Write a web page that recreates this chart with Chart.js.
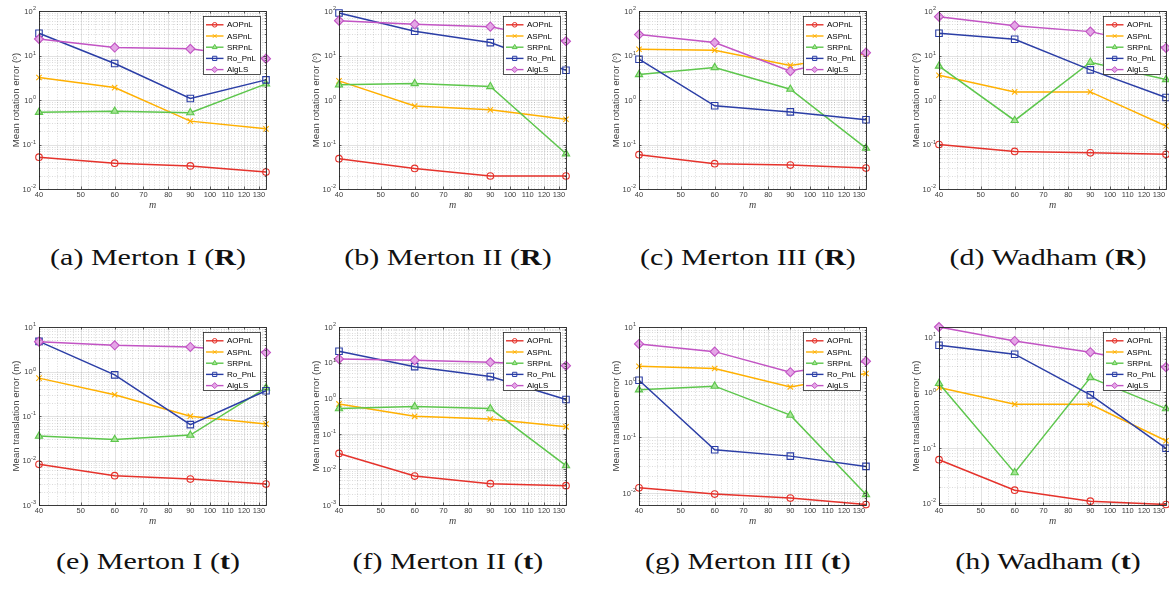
<!DOCTYPE html>
<html><head><meta charset="utf-8">
<script src="https://cdn.jsdelivr.net/npm/chart.js@4.4.0/dist/chart.umd.min.js"></script>
<style>
html,body{margin:0;padding:0;background:#fff;width:1169px;height:590px;overflow:hidden;position:relative}
.cv{position:absolute}
.cap{position:absolute;width:296px;text-align:center;font-family:"Liberation Serif","DejaVu Serif",serif;font-size:24px;line-height:28px;color:#111;white-space:nowrap;transform:scaleX(1.25);transform-origin:50% 50%}
</style></head><body>
<script>
// ---------- shared axis data ----------
const mValues = [40, 60, 90, 135];
const xTickValues = [40, 50, 60, 70, 80, 90, 100, 110, 120, 130];
const xTickLabels = ['40', '50', '60', '70', '80', '90', '100', '110', '120', '130'];
const decadeValues = [0.001, 0.01, 0.1, 1, 10, 100];
const decadeBase = '10';
const decadeExponents = ['-3', '-2', '-1', '0', '1', '2'];
const methodNames = ['AOPnL', 'ASPnL', 'SRPnL', 'Ro_PnL', 'AlgLS'];

// ---------- (a) Merton I (R) ----------
const mertonI_R_AOPnL = [0.052, 0.038, 0.033, 0.024];
const mertonI_R_ASPnL = [3.2, 1.9, 0.335, 0.225];
const mertonI_R_SRPnL = [0.53, 0.56, 0.52, 2.3];
const mertonI_R_RoPnL = [31.6, 6.6, 1.08, 2.83];
const mertonI_R_AlgLS = [23.5, 15.1, 14.1, 8.5];
// ---------- (b) Merton II (R) ----------
const mertonII_R_AOPnL = [0.048, 0.029, 0.0196, 0.0196];
const mertonII_R_ASPnL = [2.69, 0.73, 0.60, 0.37];
const mertonII_R_SRPnL = [2.19, 2.34, 2.01, 0.062];
const mertonII_R_RoPnL = [90, 35, 19.5, 4.67];
const mertonII_R_AlgLS = [60.7, 50.2, 44.5, 20.9];
// ---------- (c) Merton III (R) ----------
const mertonIII_R_AOPnL = [0.059, 0.037, 0.0345, 0.0296];
const mertonIII_R_ASPnL = [13.8, 13.1, 6.0, 11.0];
const mertonIII_R_SRPnL = [3.73, 5.36, 1.75, 0.083];
const mertonIII_R_RoPnL = [8.25, 0.74, 0.54, 0.36];
const mertonIII_R_AlgLS = [29.5, 19.5, 4.43, 11.6];
// ---------- (d) Wadham (R) ----------
const wadham_R_AOPnL = [0.100, 0.070, 0.065, 0.060];
const wadham_R_ASPnL = [3.6, 1.52, 1.52, 0.26];
const wadham_R_SRPnL = [5.8, 0.347, 7.06, 2.88];
const wadham_R_RoPnL = [31.6, 23.1, 4.75, 1.14];
const wadham_R_AlgLS = [74.6, 46.9, 34.4, 14.8];
// ---------- (e) Merton I (t) ----------
const mertonI_t_AOPnL = [0.0082, 0.00455, 0.00383, 0.00296];
const mertonI_t_ASPnL = [0.71, 0.30, 0.099, 0.066];
const mertonI_t_SRPnL = [0.0353, 0.0297, 0.0372, 0.43];
const mertonI_t_RoPnL = [4.76, 0.84, 0.064, 0.37];
const mertonI_t_AlgLS = [4.69, 3.88, 3.56, 2.66];
// ---------- (f) Merton II (t) ----------
const mertonII_t_AOPnL = [0.0281, 0.0065, 0.00396, 0.00348];
const mertonII_t_ASPnL = [0.69, 0.31, 0.26, 0.157];
const mertonII_t_SRPnL = [0.51, 0.58, 0.51, 0.0127];
const mertonII_t_RoPnL = [20.8, 7.7, 4.05, 0.92];
const mertonII_t_AlgLS = [12.7, 11.6, 10.2, 8.2];
// ---------- (g) Merton III (t) ----------
const mertonIII_t_AOPnL = [0.0123, 0.00946, 0.0080, 0.0061];
const mertonIII_t_ASPnL = [1.95, 1.77, 0.82, 1.44];
const mertonIII_t_SRPnL = [0.73, 0.85, 0.254, 0.0093];
const mertonIII_t_RoPnL = [1.09, 0.060, 0.046, 0.030];
const mertonIII_t_AlgLS = [4.93, 3.58, 1.52, 2.40];
// ---------- (h) Wadham (t) ----------
const wadham_t_AOPnL = [0.061, 0.0172, 0.0109, 0.0095];
const wadham_t_ASPnL = [1.22, 0.61, 0.61, 0.134];
const wadham_t_SRPnL = [1.45, 0.0357, 1.85, 0.51];
const wadham_t_RoPnL = [7.08, 4.88, 0.90, 0.098];
const wadham_t_AlgLS = [15.1, 8.47, 5.3, 2.85];

// ---------- captions & axis titles ----------
const captionLetters = ['(a)', '(b)', '(c)', '(d)', '(e)', '(f)', '(g)', '(h)'];
const captionNames = ['Merton I', 'Merton II', 'Merton III', 'Wadham', 'Merton I', 'Merton II', 'Merton III', 'Wadham'];
const captionSymbols = ['R', 'R', 'R', 'R', 't', 't', 't', 't'];
const yTitles = ['Mean rotation error (ᵒ)', 'Mean translation error (m)'];
const yMins = [0.01, 0.01, 0.01, 0.01, 0.001, 0.001, 0.006, 0.0093];
const yMaxs = [100, 100, 100, 100, 10, 100, 10, 15.1];

const panelSeries = [
  [mertonI_R_AOPnL, mertonI_R_ASPnL, mertonI_R_SRPnL, mertonI_R_RoPnL, mertonI_R_AlgLS],
  [mertonII_R_AOPnL, mertonII_R_ASPnL, mertonII_R_SRPnL, mertonII_R_RoPnL, mertonII_R_AlgLS],
  [mertonIII_R_AOPnL, mertonIII_R_ASPnL, mertonIII_R_SRPnL, mertonIII_R_RoPnL, mertonIII_R_AlgLS],
  [wadham_R_AOPnL, wadham_R_ASPnL, wadham_R_SRPnL, wadham_R_RoPnL, wadham_R_AlgLS],
  [mertonI_t_AOPnL, mertonI_t_ASPnL, mertonI_t_SRPnL, mertonI_t_RoPnL, mertonI_t_AlgLS],
  [mertonII_t_AOPnL, mertonII_t_ASPnL, mertonII_t_SRPnL, mertonII_t_RoPnL, mertonII_t_AlgLS],
  [mertonIII_t_AOPnL, mertonIII_t_ASPnL, mertonIII_t_SRPnL, mertonIII_t_RoPnL, mertonIII_t_AlgLS],
  [wadham_t_AOPnL, wadham_t_ASPnL, wadham_t_SRPnL, wadham_t_RoPnL, wadham_t_AlgLS]
];

// ---------- styles ----------
const lineColors = ['#e5322b', '#ffb000', '#5dc64c', '#2b3ea6', '#c254c4'];
const fillColors = ['rgba(0,0,0,0)', '#ffb000', '#a6e496', 'rgba(0,0,0,0)', '#e4a6e6'];
const markerStyles = ['circle', 'crossRot', 'triangle', 'rect', 'rectRot'];
const markerRadii = [3.3, 3.8, 4.2, 4.6, 4.5];
const legendRadii = [2.3, 2.6, 2.8, 3.0, 3.0];
const tickFont = '"Liberation Sans", Arial, sans-serif';

const gridPlugin = {
  id: 'matlabFrame',
  beforeDatasetsDraw(chart) {
    const {ctx, chartArea: a, scales: {x, y}} = chart;
    ctx.save();
    ctx.beginPath(); ctx.rect(a.left, a.top, a.right - a.left, a.bottom - a.top); ctx.clip();
    ctx.strokeStyle = 'rgba(38,38,38,0.28)';
    ctx.lineWidth = 0.6;
    ctx.setLineDash([1, 1.6]);
    ctx.beginPath();
    for (let e = -4; e <= 2; e++) {
      for (let k = 2; k <= 9; k++) {
        const v = k * Math.pow(10, e);
        if (v <= y.min || v >= y.max) continue;
        const py = Math.round(y.getPixelForValue(v)) + 0.5;
        ctx.moveTo(a.left, py); ctx.lineTo(a.right, py);
      }
    }
    for (let v = 42; v < 135; v += 2) {
      if (v % 10 === 0) continue;
      const px = Math.round(x.getPixelForValue(v)) + 0.5;
      ctx.moveTo(px, a.top); ctx.lineTo(px, a.bottom);
    }
    ctx.stroke();
    ctx.setLineDash([]);
    ctx.strokeStyle = 'rgba(38,38,38,0.17)';
    ctx.lineWidth = 0.8;
    ctx.beginPath();
    decadeValues.forEach(v => {
      if (v <= y.min || v >= y.max) return;
      const py = Math.round(y.getPixelForValue(v)) + 0.5;
      ctx.moveTo(a.left, py); ctx.lineTo(a.right, py);
    });
    xTickValues.forEach(v => {
      const px = Math.round(x.getPixelForValue(v)) + 0.5;
      ctx.moveTo(px, a.top); ctx.lineTo(px, a.bottom);
    });
    ctx.stroke();
    ctx.restore();
  },
  afterDatasetsDraw(chart) {
    const {ctx, chartArea: a, scales: {x, y}} = chart;
    ctx.save();
    ctx.fillStyle = '#404040';
    ctx.textBaseline = 'alphabetic';
    decadeValues.forEach((v, k) => {
      if (v < y.min * 0.999 || v > y.max * 1.001) return;
      const py = y.getPixelForValue(v);
      ctx.font = '5.5px ' + tickFont;
      ctx.textAlign = 'left';
      const ew = ctx.measureText(decadeExponents[k]).width;
      const ex = a.left - 3 - ew;
      ctx.fillText(decadeExponents[k], ex, py - 0.8);
      ctx.font = '7.5px ' + tickFont;
      ctx.textAlign = 'right';
      ctx.fillText(decadeBase, ex - 0.3, py + 2.8);
    });
    ctx.strokeStyle = '#262626';
    ctx.lineWidth = 0.7;
    ctx.beginPath();
    for (let e = -4; e <= 2; e++) {
      for (let k = 1; k <= 9; k++) {
        const v = k * Math.pow(10, e);
        if (v < y.min - 1e-12 || v > y.max + 1e-12) continue;
        const py = Math.round(y.getPixelForValue(v)) + 0.5;
        const len = k === 1 ? 2.5 : 1.3;
        ctx.moveTo(a.left, py); ctx.lineTo(a.left + len, py);
        ctx.moveTo(a.right, py); ctx.lineTo(a.right - len, py);
      }
    }
    xTickValues.forEach(v => {
      const px = Math.round(x.getPixelForValue(v)) + 0.5;
      ctx.moveTo(px, a.bottom); ctx.lineTo(px, a.bottom - 2.5);
      ctx.moveTo(px, a.top); ctx.lineTo(px, a.top + 2.5);
    });
    ctx.stroke();
    ctx.lineWidth = 0.9;
    ctx.strokeStyle = '#262626';
    ctx.strokeRect(Math.round(a.left) + 0.5, Math.round(a.top) + 0.5, Math.round(a.right - a.left), Math.round(a.bottom - a.top));
    const w = 57, h = 58;
    const x0 = Math.round(a.right - 6 - w) + 0.5, y0 = Math.round(a.top + 5) + 0.5;
    ctx.fillStyle = '#fff';
    ctx.fillRect(x0, y0, w, h);
    ctx.strokeStyle = '#262626';
    ctx.lineWidth = 0.8;
    ctx.strokeRect(x0, y0, w, h);
    chart.data.datasets.forEach((ds, i) => {
      const ly = y0 + 8.3 + i * 11.2;
      ctx.strokeStyle = ds.borderColor;
      ctx.lineWidth = 1.4;
      ctx.beginPath(); ctx.moveTo(x0 + 2.5, ly); ctx.lineTo(x0 + 20, ly); ctx.stroke();
      ctx.fillStyle = ds.pointBackgroundColor;
      ctx.strokeStyle = ds.borderColor;
      ctx.lineWidth = 1;
      Chart.helpers.drawPoint(ctx, {pointStyle: ds.pointStyle, radius: legendRadii[i], rotation: 0, borderWidth: 1}, x0 + 11.2, ly);
      ctx.fillStyle = '#000';
      ctx.font = '8px ' + tickFont;
      ctx.textBaseline = 'middle';
      ctx.textAlign = 'left';
      ctx.fillText(ds.label, x0 + 23.5, ly + 0.3);
    });
    ctx.restore();
  }
};

panelSeries.forEach((series, p) => {
  const col = p % 4, row = Math.floor(p / 4);
  const cv = document.createElement('canvas');
  cv.className = 'cv';
  cv.width = 290; cv.height = 215;
  cv.style.width = '290px'; cv.style.height = '215px';
  cv.style.left = (300 * col) + 'px';
  cv.style.top = (row === 0 ? 0 : 316) + 'px';
  document.body.appendChild(cv);

  const cap = document.createElement('div');
  cap.className = 'cap';
  cap.style.left = (300 * col) + 'px';
  cap.style.top = (row === 0 ? 243 : 547) + 'px';
  cap.innerHTML = captionLetters[p] + ' ' + captionNames[p] + ' (<b>' + captionSymbols[p] + '</b>)';
  document.body.appendChild(cap);

  const datasets = series.map((vals, i) => ({
    label: methodNames[i],
    data: vals.map((v, j) => ({x: mValues[j], y: v})),
    borderColor: lineColors[i],
    backgroundColor: fillColors[i],
    pointBackgroundColor: fillColors[i],
    pointBorderColor: lineColors[i],
    pointStyle: markerStyles[i],
    pointRadius: markerRadii[i],
    pointBorderWidth: 1.1,
    borderWidth: 1.5,
    tension: 0,
    fill: false,
    clip: 8,
    order: 4 - i
  }));

  new Chart(cv, {
    type: 'line',
    data: {datasets},
    options: {
      responsive: false,
      animation: false,
      devicePixelRatio: 1,
      layout: {padding: {top: 11, right: 24, left: 0, bottom: 0}},
      plugins: {legend: {display: false}, tooltip: {enabled: false}, title: {display: false}},
      scales: {
        x: {
          type: 'logarithmic',
          min: 40, max: 135,
          grid: {display: false, drawTicks: false}, border: {display: false},
          afterBuildTicks: s => { s.ticks = xTickValues.map(v => ({value: v})); },
          afterFit: s => { s.height = 26; },
          ticks: {
            autoSkip: false, maxRotation: 0, minRotation: 0, padding: 1.5,
            color: '#404040',
            font: {family: tickFont, size: 7.5},
            callback: (v) => { const k = xTickValues.indexOf(v); return k >= 0 ? xTickLabels[k] : ''; }
          },
          title: {display: true, text: 'm', color: '#404040',
            font: {family: '"Liberation Serif", "DejaVu Serif", serif', size: 10, style: 'italic'},
            padding: {top: 0, bottom: 3.5}}
        },
        y: {
          type: 'logarithmic',
          min: yMins[p], max: yMaxs[p],
          grid: {display: false, drawTicks: false}, border: {display: false},
          afterBuildTicks: s => { s.ticks = decadeValues.filter(v => v >= yMins[p] * 0.999 && v <= yMaxs[p] * 1.001).map(v => ({value: v})); },
          afterFit: s => { s.width = 39; },
          ticks: {display: false},
          title: {display: true, text: yTitles[row], color: '#404040',
            font: {family: tickFont, size: 9.6},
            padding: {top: 10.3, bottom: 0}}
        }
      }
    },
    plugins: [gridPlugin]
  });
});
</script>
</body></html>
